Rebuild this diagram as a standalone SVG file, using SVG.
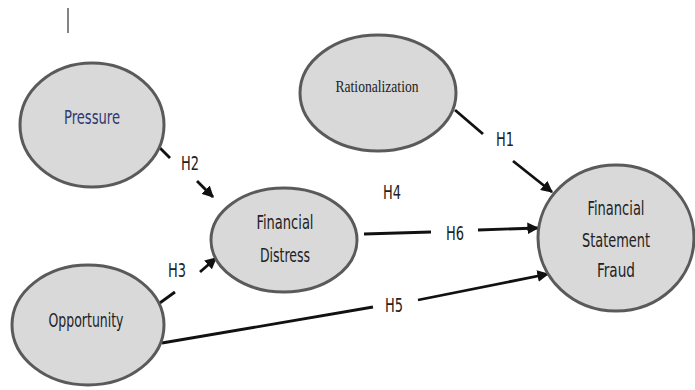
<svg xmlns="http://www.w3.org/2000/svg" width="695" height="390" viewBox="0 0 695 390">
<style>
.node{fill:#d9d9d9;stroke:#5a5a5a;stroke-width:3}
.t{font-family:"Liberation Sans Narrow","DejaVu Sans Condensed","Liberation Sans",sans-serif;font-size:19px;fill:#222;text-anchor:middle}
.s{font-family:"Liberation Serif",serif;font-size:17px;fill:#222;text-anchor:middle}
.c{stroke:#111;stroke-width:2.8;fill:none}
</style>
<defs>
<marker id="ah" viewBox="0 0 10 10" refX="9" refY="5" markerWidth="4.2" markerHeight="4.2" orient="auto" markerUnits="strokeWidth">
<path d="M0,0 L10,5 L0,10 z" fill="#111"/>
</marker>
</defs>
<rect width="695" height="390" fill="#ffffff"/>
<line x1="68" y1="8" x2="68" y2="33" stroke="#333" stroke-width="1.2"/>
<g id="connectors">
<line class="c" x1="160" y1="148" x2="170" y2="158"/>
<line class="c" x1="197" y1="181" x2="213" y2="197" marker-end="url(#ah)"/>
<line class="c" x1="455" y1="110" x2="483" y2="134"/>
<line class="c" x1="513" y1="161" x2="552" y2="192" marker-end="url(#ah)"/>
<line class="c" x1="364" y1="234" x2="431" y2="232"/>
<line class="c" x1="478" y1="230" x2="538" y2="228" marker-end="url(#ah)"/>
<line class="c" x1="157" y1="305" x2="175" y2="292"/>
<line class="c" x1="200" y1="272" x2="216" y2="258" marker-end="url(#ah)"/>
<line class="c" x1="162" y1="343" x2="373" y2="307"/>
<line class="c" x1="418" y1="300" x2="548" y2="274" marker-end="url(#ah)"/>
<text class="t" x="190" y="170" textLength="18" lengthAdjust="spacingAndGlyphs">H2</text>
<text class="t" x="505" y="146" textLength="18" lengthAdjust="spacingAndGlyphs">H1</text>
<text class="t" x="392" y="199" textLength="18" lengthAdjust="spacingAndGlyphs">H4</text>
<text class="t" x="455" y="240" textLength="18" lengthAdjust="spacingAndGlyphs">H6</text>
<text class="t" x="177" y="277" textLength="18" lengthAdjust="spacingAndGlyphs">H3</text>
<text class="t" x="394" y="312" textLength="18" lengthAdjust="spacingAndGlyphs">H5</text>
</g>
<g id="pressure">
<ellipse class="node" cx="92" cy="125" rx="72" ry="62"/>
<text class="t" x="92" y="124" style="fill:#2d3a72" textLength="56" lengthAdjust="spacingAndGlyphs">Pressure</text>
</g>
<g id="rationalization">
<ellipse class="node" cx="378" cy="93" rx="78" ry="58"/>
<text class="s" x="377" y="92" textLength="83" lengthAdjust="spacingAndGlyphs">Rationalization</text>
</g>
<g id="financial-distress">
<ellipse class="node" cx="284" cy="240" rx="73" ry="52"/>
<text class="t" x="285" y="229" textLength="57" lengthAdjust="spacingAndGlyphs">Financial</text>
<text class="t" x="285" y="262" textLength="50" lengthAdjust="spacingAndGlyphs">Distress</text>
</g>
<g id="opportunity">
<ellipse class="node" cx="88" cy="325" rx="76" ry="60"/>
<text class="t" x="86" y="327" textLength="75" lengthAdjust="spacingAndGlyphs">Opportunity</text>
</g>
<g id="financial-statement-fraud">
<ellipse class="node" cx="616" cy="238" rx="78" ry="73"/>
<text class="t" x="616" y="215" textLength="57" lengthAdjust="spacingAndGlyphs">Financial</text>
<text class="t" x="616" y="247" textLength="68" lengthAdjust="spacingAndGlyphs">Statement</text>
<text class="t" x="616" y="277" textLength="38" lengthAdjust="spacingAndGlyphs">Fraud</text>
</g>
</svg>
